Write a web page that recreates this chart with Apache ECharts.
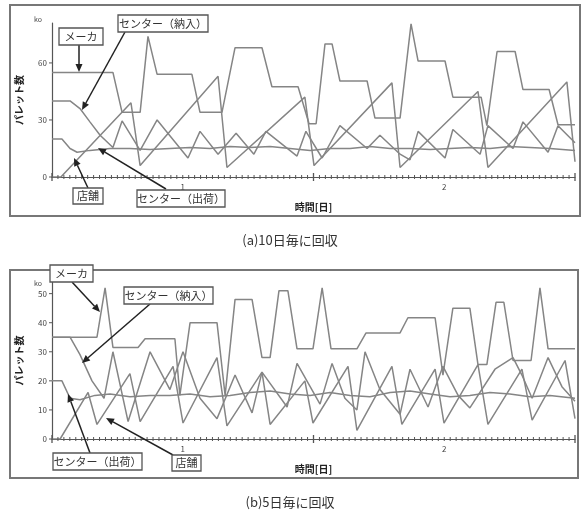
<!DOCTYPE html>
<html>
<head>
<meta charset="utf-8">
<script src="https://cdn.jsdelivr.net/npm/echarts@6/dist/echarts.min.js"></script>
<style>
  html, body { margin: 0; padding: 0; background: #fff; }
  #main { width: 582px; height: 515px; }
</style>
</head>
<body>
<div id="main"></div>
<script>
// time in days (0..2), pallets per series
var dayLabels = ['1', '2'];   // shown at the middle of each day
var minorPerDay = 44;

// (a) collected every 10 days
var makerA = [[0,55],[0.233,55],[0.268,34],[0.337,34],[0.367,74],[0.402,54],[0.535,54],[0.566,34],[0.650,34],[0.700,68],[0.803,68],[0.841,47.5],[0.941,47.5],[0.983,28],[1.010,28],[1.044,70],[1.071,70],[1.101,50.5],[1.205,50.5],[1.235,31],[1.331,31],[1.373,80.5],[1.400,61],[1.503,61],[1.533,42],[1.641,42],[1.663,27],[1.702,66],[1.771,66],[1.801,46],[1.901,46],[1.935,27.5],[2,27.5]];
var inboundA = [[0,40],[0.069,40],[0.107,36],[0.145,29],[0.184,22],[0.233,15.5],[0.268,29.5],[0.337,14],[0.402,30],[0.520,10],[0.566,24],[0.635,12],[0.704,23],[0.772,12],[0.818,24],[0.937,11],[0.971,24],[1.033,10],[1.101,27],[1.205,15],[1.254,22],[1.331,12],[1.369,9],[1.400,24],[1.503,10],[1.533,25],[1.637,12],[1.667,27],[1.763,15],[1.801,29],[1.897,13],[1.935,27],[2,18]];
var outboundA = [[0,20],[0.038,20],[0.069,15],[0.096,13],[0.145,14],[0.222,15],[0.298,15],[0.375,14.5],[0.451,15],[0.528,15.5],[0.604,15],[0.681,16],[0.757,15.5],[0.834,16],[0.910,15],[0.987,14],[1.063,15],[1.140,15],[1.216,16],[1.293,15],[1.369,15],[1.446,14.5],[1.522,15],[1.598,15.5],[1.675,15],[1.751,16],[1.828,15.5],[1.904,15],[2,14]];
var storeA = [[0,0],[0.034,0],[0.302,39],[0.337,6],[0.635,53],[0.669,5],[0.967,42],[1.002,6],[1.300,49.5],[1.331,5],[1.629,45],[1.667,5],[1.969,50],[2,8]];

// (b) collected every 5 days
var makerB = [[0,35],[0.172,35],[0.203,52],[0.233,31.5],[0.329,31.5],[0.356,34.5],[0.470,34.5],[0.489,15],[0.528,40],[0.631,40],[0.662,15],[0.700,48],[0.765,48],[0.803,28],[0.834,28],[0.868,51],[0.902,51],[0.937,31],[0.998,31],[1.033,52],[1.067,31],[1.166,31],[1.201,36.5],[1.331,36.5],[1.361,41.7],[1.465,41.7],[1.495,22],[1.533,45],[1.598,45],[1.629,25.6],[1.663,25.6],[1.698,47],[1.728,47],[1.763,27],[1.832,27],[1.866,52],[1.897,31],[2,31]];
var inboundB = [[0,35],[0.069,35],[0.107,29],[0.153,20],[0.199,14],[0.233,30],[0.291,6],[0.375,30],[0.451,17],[0.501,30],[0.566,14],[0.631,7],[0.700,22],[0.765,9],[0.803,23],[0.899,11],[0.937,26],[1.025,12],[1.071,26],[1.120,14],[1.166,10],[1.197,30],[1.254,17],[1.331,8.5],[1.369,24],[1.438,11],[1.495,25],[1.553,15],[1.598,10.7],[1.694,24],[1.763,28],[1.797,22],[1.836,14],[1.897,28],[1.950,18],[2,13]];
var outboundB = [[0,20],[0.038,20],[0.069,14],[0.107,13.5],[0.164,15],[0.222,15.5],[0.298,14.5],[0.375,15],[0.451,15],[0.528,15.5],[0.604,14.5],[0.681,15],[0.757,16],[0.834,16.5],[0.910,15.5],[0.987,15],[1.063,16],[1.140,15],[1.216,14.5],[1.293,16],[1.369,16.5],[1.446,15.5],[1.522,14.5],[1.598,15],[1.675,16],[1.751,15.5],[1.828,14.5],[1.904,15],[2,14]];
var storeB = [[0,0],[0.031,0],[0.138,16],[0.172,5],[0.298,22.5],[0.337,6],[0.463,25],[0.501,5.5],[0.631,28],[0.669,4.5],[0.803,23],[0.834,5],[0.967,20],[0.998,5.5],[1.132,25],[1.166,3],[1.300,25],[1.338,5],[1.465,24],[1.499,5.5],[1.629,25.6],[1.667,5],[1.797,24],[1.836,6.5],[1.962,27],[2,7]];

var FONT = '"Noto Sans CJK JP", "Noto Sans", sans-serif';
var axisGray = '#555';
var lineGray = '#858585';

var chart = echarts.init(document.getElementById('main'), null, { width: 582, height: 515 });

// axis carrying the data
function timeAxis(gi) {
    return {
        type: 'value', gridIndex: gi, min: 0, max: 2, interval: 1, position: 'bottom',
        axisLine: { show: true, lineStyle: { color: axisGray, width: 1.2 } },
        axisTick: { show: false },
        minorTick: { show: false },
        axisLabel: { show: true, formatter: function() { return ''; } },
        splitLine: { show: false },
        name: '時間[日]', nameLocation: 'middle', nameGap: 25,
        nameTextStyle: { fontFamily: FONT, fontSize: 10, fontWeight: 'bold', color: '#222' }
    };
}
// second axis only for the day numbers at mid-day
function dayAxis(gi) {
    return {
        type: 'value', gridIndex: gi, min: 0, max: 2, interval: 0.5, position: 'bottom',
        axisLine: { show: false }, axisTick: { show: false }, splitLine: { show: false },
        axisLabel: {
            fontSize: 8, color: '#444', margin: 6, fontFamily: FONT,
            formatter: function(v) {
                var i = Math.round(v * 2);
                return i % 2 === 1 ? dayLabels[(i - 1) / 2] : '';
            }
        }
    };
}
function countAxis(gi, max, step) {
    return {
        type: 'value', gridIndex: gi, min: 0, max: max, interval: step,
        axisLine: { show: true, lineStyle: { color: axisGray, width: 1.2 } },
        axisTick: { show: false },
        axisLabel: { fontSize: 8, color: '#444', margin: 5, showMaxLabel: false, fontFamily: FONT },
        splitLine: { show: false },
        name: 'パレット数', nameLocation: 'middle', nameGap: 28, nameRotate: 90,
        nameTextStyle: { fontFamily: FONT, fontSize: 10, fontWeight: 'bold', color: '#222' }
    };
}
function line(name, data, axisIdx) {
    return {
        name: name, type: 'line', data: data, xAxisIndex: axisIdx, yAxisIndex: axisIdx === 0 ? 0 : 1,
        showSymbol: false, smooth: false, animation: false,
        lineStyle: { color: lineGray, width: 1.5 }
    };
}

// annotation helpers
function box(x, y, w, h, label) {
    return [{
        type: 'rect', shape: { x: x, y: y, width: w, height: h }, z: 20,
        style: { fill: '#fff', stroke: '#555', lineWidth: 1.3 }
    }, {
        type: 'text', x: x + w / 2, y: y + h / 2, z: 21,
        style: { text: label, font: '11px ' + FONT, fill: '#333', align: 'center', verticalAlign: 'middle' }
    }];
}
function arrow(x1, y1, x2, y2) {
    var dx = x2 - x1, dy = y2 - y1, len = Math.sqrt(dx * dx + dy * dy);
    var ux = dx / len, uy = dy / len, hl = 8, hw = 3.5;
    var bx = x2 - ux * hl, by = y2 - uy * hl;
    return [{
        type: 'line', z: 19, shape: { x1: x1, y1: y1, x2: bx, y2: by },
        style: { stroke: '#222', lineWidth: 1.5 }
    }, {
        type: 'polygon', z: 19,
        shape: { points: [[x2, y2], [bx - uy * hw, by + ux * hw], [bx + uy * hw, by - ux * hw]] },
        style: { fill: '#222' }
    }];
}
function caption(x, y, s) {
    return { type: 'text', x: x, y: y, style: { text: s, font: '13px ' + FONT, fill: '#333', align: 'center', verticalAlign: 'middle' } };
}
function unit(x, y) {
    return { type: 'text', x: x, y: y, style: { text: 'ko', font: '7px ' + FONT, fill: '#444', align: 'center', verticalAlign: 'middle' } };
}

var graphics = [
    { type: 'rect', shape: { x: 10, y: 5, width: 570, height: 211 }, style: { fill: 'none', stroke: '#777', lineWidth: 2 } },
    { type: 'rect', shape: { x: 10, y: 270, width: 568, height: 208 }, style: { fill: 'none', stroke: '#777', lineWidth: 2 } },
    unit(38, 19), unit(38, 283),
    caption(290, 240, '(a)10日毎に回収'),
    caption(290, 502, '(b)5日毎に回収')
]
    .concat(arrow(79, 45, 79, 72), box(59, 28, 44, 17, 'メーカ'))
    .concat(arrow(125, 32, 82, 110), box(118, 15, 90, 17, 'センター（納入）'))
    .concat(arrow(88, 188, 74, 158), box(73, 188, 30, 16, '店舗'))
    .concat(arrow(166, 189, 98, 148), box(137, 190, 88, 17, 'センター（出荷）'))
    .concat(arrow(72, 282, 100, 312), box(50, 265, 43, 17, 'メーカ'))
    .concat(arrow(150, 304, 82, 363), box(124, 287, 89, 17, 'センター（納入）'))
    .concat(arrow(90, 453, 68, 394), box(53, 453, 89, 17, 'センター（出荷）'))
    .concat(arrow(173, 455, 106, 418), box(172, 455, 29, 16, '店舗'));

var option = {
    backgroundColor: '#fff',
    animation: false,
    grid: [
        { left: 52, top: 23, width: 523, height: 154 },
        { left: 52, top: 282, width: 523, height: 157 }
    ],
    xAxis: [timeAxis(0), dayAxis(0), timeAxis(1), dayAxis(1)],
    yAxis: [countAxis(0, 81, 30), countAxis(1, 54, 10)],
    series: [
        line('メーカ', makerA, 0),
        line('センター（納入）', inboundA, 0),
        line('センター（出荷）', outboundA, 0),
        line('店舗', storeA, 0),
        line('メーカ', makerB, 2),
        line('センター（納入）', inboundB, 2),
        line('センター（出荷）', outboundB, 2),
        line('店舗', storeB, 2)
    ]
};

chart.setOption(option);

// tick marks placed through the chart's own scales
function tickMarks(xIdx, yIdx, yStep, yMax) {
    var out = [];
    var y0 = chart.convertToPixel({ yAxisIndex: yIdx }, 0);
    var x0 = chart.convertToPixel({ xAxisIndex: xIdx }, 0);
    for (var k = 0; k <= 2 * minorPerDay; k++) {
        var x = chart.convertToPixel({ xAxisIndex: xIdx }, k / minorPerDay);
        var major = k % minorPerDay === 0;
        var h = major ? 4 : 2;
        out.push({ type: 'line', z: 5, shape: { x1: x, y1: y0 - h, x2: x, y2: y0 + h },
            style: { stroke: '#555', lineWidth: major ? 1.3 : 1 } });
    }
    for (var v = 0; v <= yMax; v += yStep) {
        var y = chart.convertToPixel({ yAxisIndex: yIdx }, v);
        out.push({ type: 'line', z: 5, shape: { x1: x0 - 3, y1: y, x2: x0, y2: y },
            style: { stroke: '#555', lineWidth: 1 } });
    }
    return out;
}

chart.setOption({ graphic: graphics.concat(tickMarks(0, 0, 30, 81), tickMarks(2, 1, 10, 54)) });

window.onresize = function() {
    chart.resize();
};
</script>
</body>
</html>
